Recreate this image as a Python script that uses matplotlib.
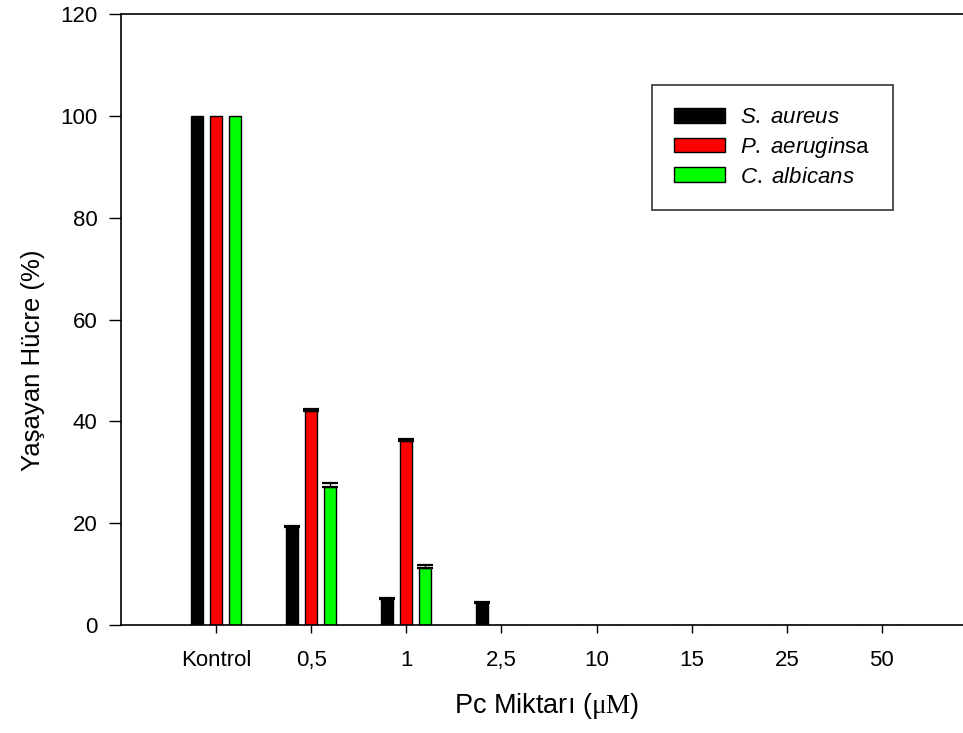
import numpy as np
import matplotlib
matplotlib.use("Agg")
import matplotlib.pyplot as plt
from matplotlib.patches import Patch

plt.rcParams["font.family"] = ["Liberation Sans", "DejaVu Sans"]
plt.rcParams["mathtext.fontset"] = "custom"
plt.rcParams["mathtext.rm"] = "Liberation Serif"
plt.rcParams["mathtext.it"] = "Liberation Sans:italic"

categories = ["Kontrol", "0,5", "1", "2,5", "10", "15", "25", "50"]
s_aureus = [100, 19.3, 5.2, 4.3, 0, 0, 0, 0]
p_aeruginosa = [100, 42.1, 36.1, 0, 0, 0, 0, 0]
c_albicans = [100, 27.2, 11.1, 0, 0, 0, 0, 0]
s_aureus_err = [0, 0.2, 0.2, 0.2, 0, 0, 0, 0]
p_aeruginosa_err = [0, 0.4, 0.5, 0, 0, 0, 0, 0]
c_albicans_err = [0, 0.7, 0.7, 0, 0, 0, 0, 0]

series = [
    (s_aureus, s_aureus_err, "#000000", r"$\mathit{S.\ aureus}$"),
    (p_aeruginosa, p_aeruginosa_err, "#ff0000", r"$\mathit{P.\ aerugin}$sa"),
    (c_albicans, c_albicans_err, "#00ff00", r"$\mathit{C.\ albicans}$"),
]

W, H = 963, 733
fig = plt.figure(figsize=(W / 100, H / 100), dpi=100)
ax = fig.add_axes([121 / W, 1 - 625 / H, (W - 121) / W, (625 - 14) / H])

x = np.arange(len(categories))
offset = 0.2
width = 0.125
for i, (vals, errs, color, label) in enumerate(series):
    pos = x + (i - 1) * offset
    ax.bar(pos, vals, width=width, color=color, edgecolor="black",
           linewidth=1.0, zorder=2)
    for p, v, e in zip(pos, vals, errs):
        if v > 0 and e > 0:
            ax.errorbar(p, v, yerr=[[0], [e]], fmt="none", ecolor="black",
                        elinewidth=1.0, capsize=6, capthick=1.6, zorder=3)

ax.set_xlim(-1.0, (W - 217) / 95.0)
ax.set_ylim(0, 120)
ax.set_yticks(np.arange(0, 121, 20))
ax.set_xticks(x)
ax.set_xticklabels(categories)

for side in ("left", "bottom", "top"):
    ax.spines[side].set_linewidth(1.2)
ax.spines["right"].set_visible(False)
ax.tick_params(axis="both", direction="out", labelsize=16, width=1.0)
ax.tick_params(axis="x", length=6, pad=12)
ax.tick_params(axis="y", length=9, pad=8)

ax.set_ylabel("Yaşayan Hücre (%)", fontsize=18.5)
ax.yaxis.set_label_coords(-0.09, 0.434)
ax.set_xlabel(r"Pc Miktarı ($\mathrm{\mu M}$)", fontsize=19.5)
ax.xaxis.set_label_coords(0.506, -0.108)
ax.xaxis.label.set_verticalalignment("top")

handles = [Patch(facecolor=c, edgecolor="black", linewidth=1.0, label=l)
           for _, _, c, l in series]
leg = ax.legend(handles=handles, loc="upper left",
                bbox_to_anchor=((652 - 121) / (W - 121), 1 - (85 - 14) / 611),
                prop={"size": 16}, frameon=True, fancybox=False,
                edgecolor="black", handlelength=2.3, handleheight=0.63,
                borderpad=1.0, labelspacing=0.3, handletextpad=0.68,
                borderaxespad=0)
leg.get_frame().set_linewidth(1.2)

fig.savefig("out.png", dpi=100)
